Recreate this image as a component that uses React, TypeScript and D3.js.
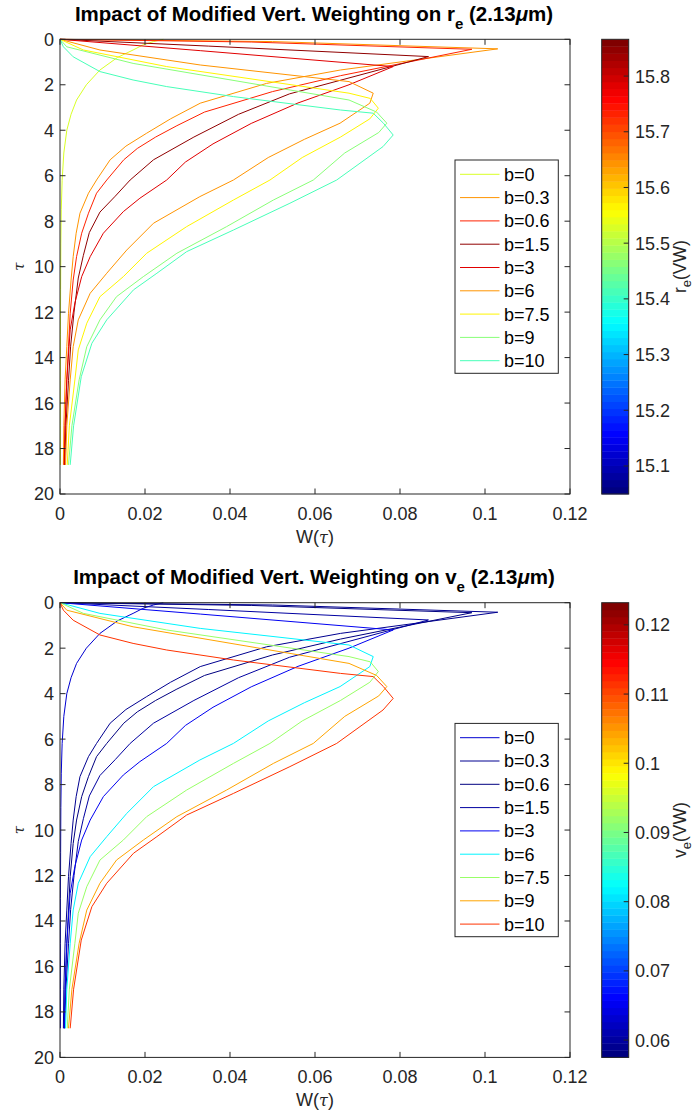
import React from "react";
import * as d3 from "d3";

// ---------------- DATA ----------------
const bLabels = ["b=0", "b=0.3", "b=0.6", "b=1.5", "b=3", "b=6", "b=7.5", "b=9", "b=10"];
// effective radius / variance for each b (drive line colours)
const reValues = [15.523, 15.64, 15.737, 15.846, 15.784, 15.638, 15.56, 15.466, 15.41];
const veValues = [0.0630, 0.0590, 0.0582, 0.0605, 0.0655, 0.0812, 0.092, 0.104, 0.1117];

const tauB0 = [0, 0.1, 0.25, 0.47, 0.8, 1.35, 2.0, 2.67, 3.3, 4.0, 5.0, 6.2, 7.5, 9, 11, 13, 15, 17, 18.72];
const wB0 = [0.0243, 0.022, 0.0195, 0.0172, 0.0135, 0.0094, 0.0062, 0.0039, 0.0026, 0.0016, 0.0009, 0.0005, 0.0003, 0.0002, 0.00015, 0.0001, 0.0001, 0.0001, 0.0001];

const tauB03 = [0, 0.1, 0.42, 1.35, 1.94, 2.81, 3.5, 4.13, 4.7, 5.3, 6.19, 6.77, 7.65, 8.53, 9.56, 10.59, 12.05, 13.52, 14.98, 17, 18.72];
const wB03 = [0, 0.05, 0.103, 0.066, 0.0486, 0.033, 0.026, 0.0204, 0.0155, 0.0118, 0.0086, 0.0067, 0.0047, 0.0038, 0.0031, 0.0026, 0.002, 0.0016, 0.0012, 0.0009, 0.0008];

const tauB06 = [0, 0.12, 0.44, 1.6, 2.3, 3.2, 3.8, 4.3, 4.8, 5.3, 6.19, 6.77, 7.65, 8.53, 9.56, 10.59, 12.05, 13.52, 14.98, 17, 18.72];
const wB06 = [0, 0.045, 0.0969, 0.066, 0.05, 0.034, 0.0275, 0.0225, 0.0182, 0.015, 0.011, 0.0086, 0.0067, 0.0051, 0.0039, 0.0031, 0.0024, 0.002, 0.0016, 0.0012, 0.001];

const tauB15 = [0, 0.3, 0.76, 1.7, 2.4, 3.3, 4.3, 5.3, 6.19, 6.9, 7.6, 8.5, 9.5, 10.5, 12, 13.5, 15, 17, 18.72];
const wB15 = [0, 0.035, 0.0867, 0.068, 0.054, 0.042, 0.0315, 0.022, 0.0165, 0.013, 0.0094, 0.0069, 0.0055, 0.0043, 0.0033, 0.0025, 0.002, 0.0014, 0.0011];

const tauB3 = [0, 0.5, 1.2, 2.0, 2.8, 3.7, 4.6, 5.4, 6.19, 6.99, 7.58, 8.53, 9.56, 10.44, 11.6, 12.78, 14.98, 17, 18.72];
const wB3 = [0, 0.033, 0.0784, 0.068, 0.056, 0.045, 0.036, 0.0295, 0.0251, 0.0188, 0.0149, 0.0102, 0.0071, 0.0051, 0.0035, 0.0024, 0.0016, 0.0012, 0.001];

const tauB6 = [0, 0.47, 1.13, 1.86, 2.37, 2.81, 3.69, 4.4, 5.2, 6.19, 6.92, 8.09, 9.27, 10.29, 11.17, 12.34, 13.52, 14.98, 17, 18.72];
const wB6 = [0, 0.0094, 0.033, 0.068, 0.0737, 0.0729, 0.0659, 0.0575, 0.049, 0.0408, 0.0329, 0.022, 0.0157, 0.011, 0.0071, 0.0043, 0.0031, 0.0024, 0.0016, 0.0013];

const tauB75 = [0, 0.47, 1.2, 2.37, 2.6, 3.03, 3.5, 4.3, 5.2, 6.19, 7.07, 8.24, 9.41, 10.44, 11.32, 12.49, 13.66, 14.98, 17, 18.72];
const wB75 = [0, 0.0055, 0.0251, 0.068, 0.073, 0.0749, 0.0729, 0.066, 0.057, 0.0494, 0.0408, 0.0298, 0.0204, 0.0149, 0.0094, 0.0063, 0.0043, 0.0035, 0.0022, 0.0017];

const tauB9 = [0, 0.33, 1.06, 2.67, 3.2, 3.69, 4.1, 5.0, 6.19, 7.07, 8.24, 9.41, 10.44, 11.32, 12.34, 13.52, 14.98, 17, 18.72];
const wB9 = [0, 0.0016, 0.0172, 0.068, 0.0745, 0.0769, 0.075, 0.067, 0.0596, 0.0502, 0.0392, 0.0275, 0.0196, 0.0133, 0.0094, 0.0063, 0.0045, 0.0028, 0.002];

const tauB10 = [0, 0.33, 0.77, 1.42, 1.79, 2.08, 2.52, 3.11, 3.25, 3.69, 4.21, 4.72, 6.19, 7.21, 8.39, 9.34, 10.29, 11.02, 12.34, 13.37, 14.84, 17, 18.72];
const wB10 = [0, 0.0008, 0.0031, 0.0094, 0.0172, 0.0251, 0.0408, 0.066, 0.0737, 0.0761, 0.0784, 0.076, 0.0651, 0.0541, 0.0408, 0.0298, 0.0228, 0.0173, 0.011, 0.0075, 0.005, 0.0032, 0.0024];

const tauSeries = [tauB0, tauB03, tauB06, tauB15, tauB3, tauB6, tauB75, tauB9, tauB10];
const wSeries = [wB0, wB03, wB06, wB15, wB3, wB6, wB75, wB9, wB10];

const xTicks = [0, 0.02, 0.04, 0.06, 0.08, 0.1, 0.12];
const yTicks = [0, 2, 4, 6, 8, 10, 12, 14, 16, 18, 20];
const reTicks = [15.1, 15.2, 15.3, 15.4, 15.5, 15.6, 15.7, 15.8];
const veTicks = [0.06, 0.07, 0.08, 0.09, 0.1, 0.11, 0.12];
const reDomain = [15.0497, 15.866];
const veDomain = [0.0575, 0.1232];

// ---------------- STYLE ----------------
const FONT = "'Liberation Sans', Helvetica, Arial, sans-serif";
const AX = "#262626";
const NCOL = 64;

function jet(t: number): string {
  const c = (v: number) => Math.max(0, Math.min(1, v));
  const r = c(1.5 - Math.abs(4 * t - 3));
  const g = c(1.5 - Math.abs(4 * t - 2));
  const b = c(1.5 - Math.abs(4 * t - 1));
  return d3.rgb(r * 255, g * 255, b * 255).formatHex();
}
function jetIndexed(t: number): string {
  const i = Math.max(0, Math.min(NCOL - 1, Math.floor(t * NCOL)));
  return jet(i / (NCOL - 1));
}

type PanelProps = {
  top: number;
  sym: string;
  values: number[];
  domain: number[];
  cTicks: number[];
};

function Panel({ top, sym, values, domain, cTicks }: PanelProps) {
  const x0 = 60, x1 = 570;
  const y0 = top, y1 = top + 454.7;
  const x = d3.scaleLinear().domain([0, 0.12]).range([x0, x1]);
  const y = d3.scaleLinear().domain([0, 20]).range([y0, y1]);
  const cb = d3.scaleLinear().domain(domain).range([y1, y0]);
  const norm = d3.scaleLinear().domain(domain).range([0, 1]).clamp(true);
  const line = d3.line<[number, number]>().x((d) => x(d[1])).y((d) => y(d[0]));
  const tl = 5.5;
  const cbx0 = 601.7, cbx1 = 628.7;
  const bands = d3.range(NCOL);
  const bandH = (y1 - y0) / NCOL;
  const lgX0 = 455, lgX1 = 558.3, lgY0 = top + 120.7, lgY1 = top + 334;
  const lgStep = 23.3;

  return (
    <g>
      {/* title */}
      <text x={314} y={top - 18.6} textAnchor="middle" fontFamily={FONT} fontWeight="bold" fontSize={20.5} fill="#000">
        {"Impact of Modified Vert. Weighting on " + sym}
        <tspan dy={8} fontSize={15}>e</tspan>
        <tspan dy={-8}>{" (2.13"}</tspan>
        <tspan fontStyle="italic">μ</tspan>
        <tspan>{"m)"}</tspan>
      </text>

      {/* curves */}
      <g>
        {tauSeries.map((ts, i) => {
          const pts: [number, number][] = ts.map((t, k) => [t, wSeries[i][k]]);
          return (
            <path key={i} d={line(pts) || ""} fill="none" stroke={jetIndexed(norm(values[i]))} strokeWidth={1} strokeLinejoin="round" />
          );
        })}
      </g>

      {/* axes box */}
      <rect x={x0} y={y0} width={x1 - x0} height={y1 - y0} fill="none" stroke={AX} strokeWidth={1} />
      {xTicks.map((t) => (
        <g key={"xt" + t}>
          <line x1={x(t)} x2={x(t)} y1={y1} y2={y1 - tl} stroke={AX} />
          <line x1={x(t)} x2={x(t)} y1={y0} y2={y0 + tl} stroke={AX} />
          <text x={x(t)} y={y1 + 25.5} textAnchor="middle" fontFamily={FONT} fontSize={18} fill={AX}>
            {String(t)}
          </text>
        </g>
      ))}
      {yTicks.map((t) => (
        <g key={"yt" + t}>
          <line x1={x0} x2={x0 + tl} y1={y(t)} y2={y(t)} stroke={AX} />
          <line x1={x1} x2={x1 - tl} y1={y(t)} y2={y(t)} stroke={AX} />
          <text x={54} y={y(t)} dy="0.36em" textAnchor="end" fontFamily={FONT} fontSize={18} fill={AX}>
            {String(t)}
          </text>
        </g>
      ))}
      <text x={315} y={y1 + 48.5} textAnchor="middle" fontFamily={FONT} fontSize={18} fill={AX}>
        W(<tspan fontFamily="'DejaVu Serif', serif" fontStyle="italic" fontSize={16}>τ</tspan>)
      </text>
      <text transform={`translate(24,${(y0 + y1) / 2}) rotate(-90)`} textAnchor="middle" fontFamily="'DejaVu Serif', serif" fontStyle="italic" fontSize={15} fill={AX}>
        τ
      </text>

      {/* legend */}
      <rect x={lgX0} y={lgY0} width={lgX1 - lgX0} height={lgY1 - lgY0} fill="#fff" stroke={AX} strokeWidth={1} />
      {bLabels.map((lab, i) => {
        const ly = lgY0 + 14.3 + i * lgStep;
        return (
          <g key={"lg" + i}>
            <line x1={460} x2={499.5} y1={ly} y2={ly} stroke={jetIndexed(norm(values[i]))} strokeWidth={1} />
            <text x={504} y={ly} dy="0.36em" fontFamily={FONT} fontSize={18} fill="#000">
              {lab}
            </text>
          </g>
        );
      })}

      {/* colorbar */}
      {bands.map((i) => (
        <rect key={"cb" + i} x={cbx0} width={cbx1 - cbx0} y={y1 - (i + 1) * bandH} height={bandH + 0.4} fill={jet(i / (NCOL - 1))} />
      ))}
      <rect x={cbx0} y={y0} width={cbx1 - cbx0} height={y1 - y0} fill="none" stroke={AX} strokeWidth={1} />
      {cTicks.map((t) => (
        <g key={"ct" + t}>
          <line x1={cbx1} x2={cbx1 - 5} y1={cb(t)} y2={cb(t)} stroke={AX} />
          <text x={635} y={cb(t)} dy="0.36em" fontFamily={FONT} fontSize={18} fill={AX}>
            {String(t)}
          </text>
        </g>
      ))}
      <text transform={`translate(686,${(y0 + y1) / 2}) rotate(-90)`} textAnchor="middle" fontFamily={FONT} fontSize={17.5} fill={AX}>
        {sym}
        <tspan dy={5} fontSize={13}>e</tspan>
        <tspan dy={-5}>(VW)</tspan>
      </text>
    </g>
  );
}

export default function App() {
  return (
    <svg width={695} height={1113} style={{ position: "absolute", left: 0, top: 0, background: "#fff" }}>
      <rect width={695} height={1113} fill="#fff" />
      <Panel top={39.3} sym="r" values={reValues} domain={reDomain} cTicks={reTicks} />
      <Panel top={602.7} sym="v" values={veValues} domain={veDomain} cTicks={veTicks} />
    </svg>
  );
}
